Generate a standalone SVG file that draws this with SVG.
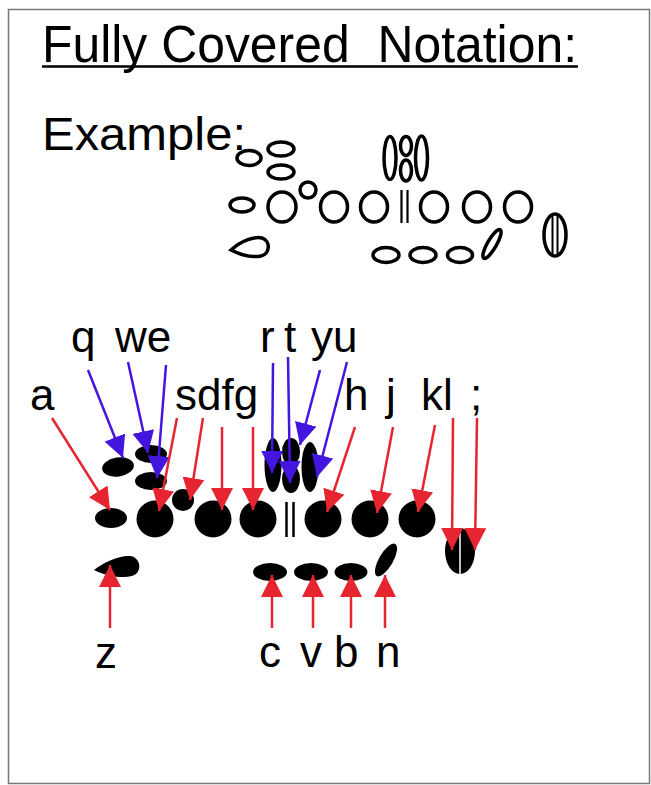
<svg xmlns="http://www.w3.org/2000/svg" width="651" height="785" viewBox="0 0 651 785">
<defs>
<style>
.t{font-family:"Liberation Sans",Arial,sans-serif;fill:#000}
.lbl{font-size:44px}
.o{fill:none;stroke:#000;stroke-width:3.5}
.f{fill:#000}
.r{stroke:#e62530;stroke-width:2.5;fill:none;marker-end:url(#ar)}
.b{stroke:#4515e0;stroke-width:2.5;fill:none;marker-end:url(#ab)}
</style>
<marker id="ar" markerUnits="userSpaceOnUse" markerWidth="22" markerHeight="22" refX="22" refY="11" orient="auto"><path d="M0,0 L22,11 L0,22 Z" fill="#e62530"/></marker>
<marker id="ab" markerUnits="userSpaceOnUse" markerWidth="22" markerHeight="22" refX="22" refY="11" orient="auto"><path d="M0,0 L22,11 L0,22 Z" fill="#4515e0"/></marker>
</defs>
<rect x="0" y="0" width="651" height="785" fill="#fff"/>
<rect x="8.5" y="9.5" width="641" height="774" fill="none" stroke="#777" stroke-width="1.5"/>

<g id="title">
<text class="t" x="42" y="62" font-size="52" textLength="535" lengthAdjust="spacingAndGlyphs" xml:space="preserve">Fully Covered  Notation:</text>
<line x1="42" y1="66.5" x2="578" y2="66.5" stroke="#000" stroke-width="2.5"/>
</g>
<g id="example-label"><text class="t" x="42" y="150" font-size="46" textLength="204" lengthAdjust="spacingAndGlyphs">Example:</text></g>

<g id="example">
<ellipse class="o" cx="249" cy="158" rx="12" ry="7.5"/>
<ellipse class="o" cx="281" cy="149" rx="13" ry="7"/>
<ellipse class="o" cx="281" cy="172" rx="13" ry="7"/>
<ellipse class="o" cx="242" cy="205" rx="12" ry="7"/>
<ellipse class="o" cx="282" cy="207" rx="14" ry="15"/>
<circle class="o" cx="308" cy="190" r="8"/>
<ellipse class="o" cx="334" cy="207" rx="13.5" ry="15"/>
<ellipse class="o" cx="374" cy="207" rx="13.5" ry="15"/>
<line x1="401.5" y1="190" x2="401.5" y2="223" stroke="#000" stroke-width="2.2"/>
<line x1="407.5" y1="190" x2="407.5" y2="223" stroke="#000" stroke-width="2.2"/>
<ellipse class="o" cx="434" cy="207" rx="13.5" ry="15"/>
<ellipse class="o" cx="477" cy="207" rx="13.5" ry="15"/>
<ellipse class="o" cx="518" cy="207" rx="13.5" ry="15"/>
<ellipse class="o" cx="390" cy="158" rx="6" ry="21.5"/>
<ellipse class="o" cx="406" cy="146" rx="5.5" ry="9.5"/>
<ellipse class="o" cx="406" cy="170.5" rx="5.5" ry="10.5"/>
<ellipse class="o" cx="421.5" cy="158" rx="6" ry="22"/>
<path class="o" d="M231,250 C241,241 254,236 262,238 C271,241 270,254 261,256 C251,258 239,254 231,250 Z"/>
<ellipse class="o" cx="386" cy="255" rx="13" ry="7.5"/>
<ellipse class="o" cx="423" cy="255" rx="13" ry="7.5"/>
<ellipse class="o" cx="460" cy="255" rx="12.5" ry="7.5"/>
<ellipse class="o" cx="492" cy="244" rx="4.5" ry="16.5" transform="rotate(30 492 244)"/>
<ellipse class="o" cx="555" cy="235" rx="11" ry="21"/>
<line x1="552.5" y1="214" x2="552.5" y2="256" stroke="#000" stroke-width="2"/>
<line x1="557.5" y1="214" x2="557.5" y2="256" stroke="#000" stroke-width="2"/>
</g>

<g id="keys">
<ellipse class="f" cx="118" cy="467" rx="16" ry="9.5" transform="rotate(-8 118 467)"/>
<ellipse class="f" cx="151" cy="454" rx="16" ry="9"/>
<ellipse class="f" cx="151" cy="481" rx="16" ry="9"/>
<circle class="f" cx="183" cy="500" r="11"/>
<ellipse class="f" cx="111" cy="518" rx="16" ry="10"/>
<circle class="f" cx="155" cy="519" r="18.5"/>
<circle class="f" cx="213" cy="519" r="18.5"/>
<circle class="f" cx="258" cy="519" r="18.5"/>
<line x1="286.5" y1="502" x2="286.5" y2="537" stroke="#000" stroke-width="2.5"/>
<line x1="293.5" y1="502" x2="293.5" y2="537" stroke="#000" stroke-width="2.5"/>
<circle class="f" cx="323" cy="519" r="18.5"/>
<circle class="f" cx="370" cy="519" r="18.5"/>
<circle class="f" cx="417" cy="519" r="18.5"/>
<ellipse class="f" cx="273" cy="465" rx="8.5" ry="27"/>
<ellipse class="f" cx="291" cy="452" rx="9" ry="14"/>
<ellipse class="f" cx="291" cy="479" rx="9" ry="14"/>
<ellipse class="f" cx="310" cy="467" rx="8.5" ry="25"/>
<path class="f" d="M94,570 C104,562 120,555 130,556 C141,557 143,573 132,576 C120,579 104,575 94,570 Z"/>
<ellipse class="f" cx="270" cy="572" rx="17" ry="9"/>
<ellipse class="f" cx="311" cy="572" rx="17" ry="9"/>
<ellipse class="f" cx="351" cy="572" rx="16.5" ry="9"/>
<ellipse class="f" cx="386" cy="560" rx="7" ry="18.5" transform="rotate(30 386 560)"/>
<ellipse class="f" cx="460" cy="551" rx="15" ry="23"/>
<line x1="460" y1="528" x2="460" y2="575" stroke="#fff" stroke-width="1.5"/>
</g>

<g id="connectors">
<line class="r" x1="52" y1="418" x2="110" y2="510"/>
<line class="b" x1="88" y1="370" x2="123" y2="458"/>
<line class="b" x1="128" y1="362" x2="148" y2="453"/>
<line class="b" x1="166" y1="365" x2="157" y2="478"/>
<line class="r" x1="177" y1="418" x2="159" y2="511"/>
<line class="r" x1="203" y1="418" x2="190" y2="500"/>
<line class="r" x1="222" y1="427" x2="222" y2="510"/>
<line class="r" x1="253" y1="427" x2="253" y2="510"/>
<line class="b" x1="273" y1="363" x2="272" y2="473"/>
<line class="b" x1="288" y1="357" x2="290" y2="483"/>
<line class="b" x1="320" y1="370" x2="300" y2="445"/>
<line class="b" x1="347" y1="362" x2="317" y2="477"/>
<line class="r" x1="355" y1="427" x2="327" y2="512"/>
<line class="r" x1="393" y1="427" x2="377" y2="513"/>
<line class="r" x1="435" y1="425" x2="418" y2="512"/>
<line class="r" x1="453" y1="418" x2="452" y2="550"/>
<line class="r" x1="477" y1="418" x2="475" y2="550"/>
<line class="r" x1="110" y1="628" x2="110" y2="565"/>
<line class="r" x1="272" y1="628" x2="272" y2="575"/>
<line class="r" x1="313" y1="628" x2="313" y2="575"/>
<line class="r" x1="351" y1="628" x2="351" y2="575"/>
<line class="r" x1="385" y1="628" x2="385" y2="575"/>
</g>

<g id="labels">
<text class="t lbl" x="71" y="352">q</text>
<text class="t lbl" x="115" y="352">we</text>
<text class="t lbl" x="260" y="352">r</text>
<text class="t lbl" x="284" y="352">t</text>
<text class="t lbl" x="311" y="352">yu</text>
<text class="t lbl" x="30" y="410">a</text>
<text class="t lbl" x="175" y="410">sdfg</text>
<text class="t lbl" x="344" y="410">h</text>
<text class="t lbl" x="386" y="410">j</text>
<text class="t lbl" x="421" y="410">kl</text>
<text class="t lbl" x="470" y="410">;</text>
<text class="t lbl" x="95" y="668">z</text>
<text class="t lbl" x="259" y="667">c</text>
<text class="t lbl" x="300" y="667">v</text>
<text class="t lbl" x="334" y="667">b</text>
<text class="t lbl" x="376" y="667">n</text>
</g>
</svg>
